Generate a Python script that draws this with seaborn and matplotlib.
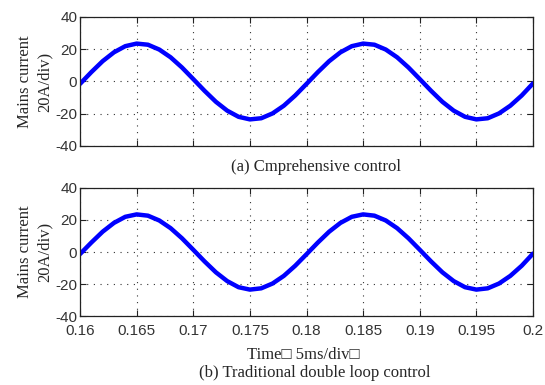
import numpy as np
import pandas as pd
import matplotlib
matplotlib.use("Agg")
import matplotlib.pyplot as plt
import seaborn as sns

# time axis (s), sampled every 1 ms
time_s = [0.160, 0.161, 0.162, 0.163, 0.164, 0.165, 0.166, 0.167, 0.168, 0.169,
          0.170, 0.171, 0.172, 0.173, 0.174, 0.175, 0.176, 0.177, 0.178, 0.179,
          0.180, 0.181, 0.182, 0.183, 0.184, 0.185, 0.186, 0.187, 0.188, 0.189,
          0.190, 0.191, 0.192, 0.193, 0.194, 0.195, 0.196, 0.197, 0.198, 0.199,
          0.200]

# mains current (A)
current_comprehensive = [-1.5, 5.8, 12.6, 18.1, 21.9, 23.5, 22.8, 19.8, 15.0, 8.7,
                         1.5, -5.8, -12.6, -18.1, -21.9, -23.5, -22.8, -19.8, -15.0, -8.7,
                         -1.5, 5.8, 12.6, 18.1, 21.9, 23.5, 22.8, 19.8, 15.0, 8.7,
                         1.5, -5.8, -12.6, -18.1, -21.9, -23.5, -22.8, -19.8, -15.0, -8.7,
                         -1.2]
current_traditional = [-1.3, 5.9, 12.7, 18.2, 22.0, 23.5, 22.7, 19.7, 14.9, 8.6,
                       1.4, -5.9, -12.7, -18.2, -22.0, -23.5, -22.7, -19.7, -14.9, -8.6,
                       -1.4, 5.9, 12.7, 18.2, 22.0, 23.5, 22.7, 19.7, 14.9, 8.6,
                       1.4, -5.9, -12.7, -18.2, -22.0, -23.5, -22.7, -19.7, -14.9, -8.6,
                       -1.0]

x_ticks = [0.16, 0.165, 0.17, 0.175, 0.18, 0.185, 0.19, 0.195, 0.2]
x_tick_labels = ["0.16", "0.165", "0.17", "0.175", "0.18", "0.185", "0.19", "0.195", "0.2"]
y_ticks = [-40, -20, 0, 20, 40]

sns.set_style("ticks")
plt.rcParams["font.family"] = ["Liberation Sans", "DejaVu Sans"]
plt.rcParams["axes.unicode_minus"] = False

df_a = pd.DataFrame({"t": time_s, "i": current_comprehensive})
df_b = pd.DataFrame({"t": time_s, "i": current_traditional})

fig = plt.figure(figsize=(5.45, 3.85), dpi=100)
ax_a = fig.add_axes([0.1468, 0.6208, 0.8312, 0.3351])
ax_b = fig.add_axes([0.1468, 0.1792, 0.8312, 0.3325])

serif = ["Liberation Serif", "DejaVu Serif"]

for ax, df in [(ax_a, df_a), (ax_b, df_b)]:
    sns.lineplot(x="t", y="i", data=df, ax=ax, color="#0000ff", linewidth=3.2)
    ax.set_xlim(0.16, 0.2)
    ax.set_ylim(-40, 40)
    ax.set_xticks(x_ticks)
    ax.set_yticks(y_ticks)
    ax.grid(True, color="#333333", linestyle=(0, (1, 5)), linewidth=0.8)
    ax.tick_params(direction="in", top=True, right=True, length=4, width=0.8,
                   labelsize=11, colors="#222222", labelcolor="#333333", pad=2)
    ax.tick_params(axis="x", pad=6)
    for s in ax.spines.values():
        s.set_linewidth(0.9)
        s.set_color("#222222")
    ax.set_xlabel("")
    ax.set_ylabel("Mains current\n20A/div)", family=serif, fontsize=12,
                  labelpad=2, linespacing=1.3)

ax_a.set_xticklabels([])
ax_b.set_xticklabels(x_tick_labels)

fig.text(0.58, 0.566, "(a) Cmprehensive control", family=serif, fontsize=12,
         ha="center", va="center")
fig.text(0.557, 0.078, "Time\u25a1 5ms/div\u25a1", family=serif, fontsize=12,
         ha="center", va="center")
fig.text(0.578, 0.031, "(b) Traditional double loop control", family=serif, fontsize=12,
         ha="center", va="center")

fig.savefig("out.png", dpi=100)
